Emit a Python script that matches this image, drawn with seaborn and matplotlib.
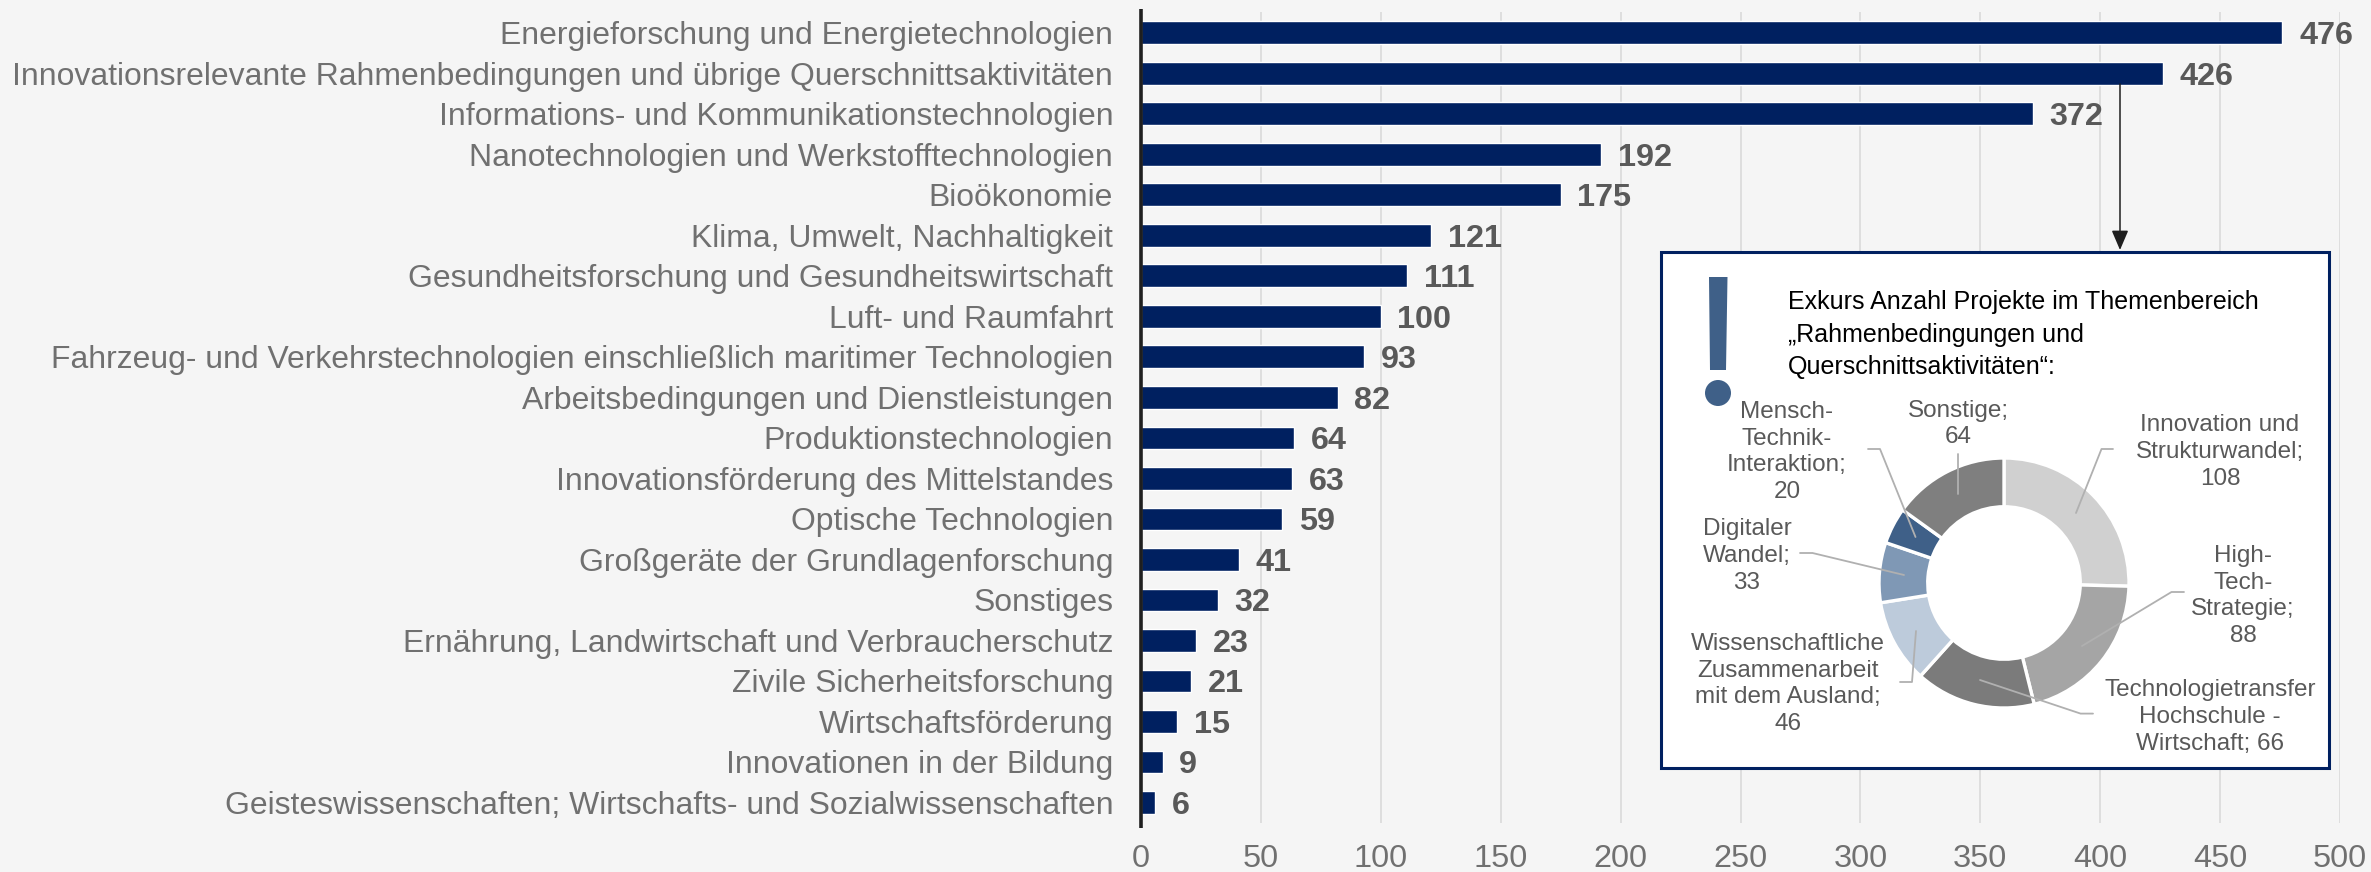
import matplotlib
matplotlib.use("Agg")
import matplotlib.pyplot as plt
from matplotlib.patches import Rectangle, Polygon, Circle
import seaborn as sns
import pandas as pd

categories = [
    "Energieforschung und Energietechnologien",
    "Innovationsrelevante Rahmenbedingungen und übrige Querschnittsaktivitäten",
    "Informations- und Kommunikationstechnologien",
    "Nanotechnologien und Werkstofftechnologien",
    "Bioökonomie",
    "Klima, Umwelt, Nachhaltigkeit",
    "Gesundheitsforschung und Gesundheitswirtschaft",
    "Luft- und Raumfahrt",
    "Fahrzeug- und Verkehrstechnologien einschließlich maritimer Technologien",
    "Arbeitsbedingungen und Dienstleistungen",
    "Produktionstechnologien",
    "Innovationsförderung des Mittelstandes",
    "Optische Technologien",
    "Großgeräte der Grundlagenforschung",
    "Sonstiges",
    "Ernährung, Landwirtschaft und Verbraucherschutz",
    "Zivile Sicherheitsforschung",
    "Wirtschaftsförderung",
    "Innovationen in der Bildung",
    "Geisteswissenschaften; Wirtschafts- und Sozialwissenschaften",
]
values = [476, 426, 372, 192, 175, 121, 111, 100, 93, 82, 64, 63, 59, 41, 32, 23, 21, 15, 9, 6]
x_ticks = [0, 50, 100, 150, 200, 250, 300, 350, 400, 450, 500]

donut_values = [108, 88, 66, 46, 33, 20, 64]
donut_colors = ["#D0D0D0", "#A5A5A5", "#7B7B7B", "#BDCBDB", "#7F98B5", "#3F6088", "#7F7F7F"]
donut_labels = [
    "Innovation und\nStrukturwandel;\n108",
    "High-\nTech-\nStrategie;\n88",
    "Technologietransfer\nHochschule -\nWirtschaft; 66",
    "Wissenschaftliche\nZusammenarbeit\nmit dem Ausland;\n46",
    "Digitaler\nWandel;\n33",
    "Mensch-\nTechnik-\nInteraktion;\n20",
    "Sonstige;\n64",
]
donut_label_pos = [(2220, 452), (2243, 596), (2210, 717), (1788, 684), (1747, 556), (1787, 452), (1958, 424)]
leaders = [
    [(2113, 449), (2101.5, 449), (2076, 513)],
    [(2184, 592), (2171.5, 592), (2082, 646)],
    [(2093, 713.6), (2080.6, 713.6), (1980, 680)],
    [(1900, 682), (1912, 682), (1916, 631)],
    [(1800, 553), (1812.5, 553), (1904, 575)],
    [(1868, 449), (1880, 449), (1915.5, 537)],
    [(1958.4, 454), (1958.4, 493.6)],
]
inset_title = ["Exkurs Anzahl Projekte im Themenbereich", "„Rahmenbedingungen und", "Querschnittsaktivitäten“:"]

W, H = 2371, 872
BG = "#F5F5F5"
NAVY = "#002060"
BLUE = "#3F6088"
GREY = "#707070"

sns.set_theme(style="white")
plt.rcParams["font.family"] = ["Liberation Sans", "DejaVu Sans"]

fig = plt.figure(figsize=(W / 100, H / 100), dpi=100, facecolor=BG)


def box(x0, y0, x1, y1):
    return [x0 / W, 1 - y1 / H, (x1 - x0) / W, (y1 - y0) / H]


ax = fig.add_axes(box(1141, 12.5, 2340, 822.7), facecolor=BG)
df = pd.DataFrame({"Thema": categories, "Projekte": values})
sns.barplot(data=df, y="Thema", x="Projekte", color=NAVY, saturation=1, width=0.56,
            orient="h", ax=ax, zorder=3)
ax.set_xlim(0, 500)
ax.set_ylim(len(categories) - 0.5, -0.5)
ax.set_xlabel("")
ax.set_ylabel("")
ax.set_xticks(x_ticks)
ax.grid(axis="x", color="#DEDEDE", lw=1.4, zorder=0)
ax.grid(axis="y", visible=False)
ax.set_axisbelow(True)
ax.tick_params(axis="y", length=0, pad=20, labelsize=22.95, labelcolor=GREY)
ax.tick_params(axis="x", length=0, pad=15.5, labelsize=23.4, labelcolor=GREY)
for s in ax.spines.values():
    s.set_visible(False)
for c in ax.containers:
    for t in ax.bar_label(c, padding=12, fontsize=23.3, fontweight="bold", color="#595959", zorder=4):
        t.set_verticalalignment("center_baseline")

# Overlay in pixel coordinates for the annotation layer
ov = fig.add_axes([0, 0, 1, 1], facecolor="none")
ov.set_xlim(0, W)
ov.set_ylim(H, 0)
ov.axis("off")
ov.plot([1141, 1141], [9, 828], color="#1F1F1F", lw=2.6, solid_capstyle="butt")
ov.add_patch(Rectangle((1661, 252), 668, 516, facecolor="white", edgecolor=NAVY, lw=2.2, zorder=2))
ov.annotate("", xy=(2120, 250), xytext=(2120, 84), zorder=3,
            arrowprops=dict(arrowstyle="-|>,head_width=0.32,head_length=0.75", color="#1F1F1F", lw=1.1,
                            shrinkA=0, shrinkB=0, mutation_scale=16))
ov.add_patch(Polygon([(1709, 277), (1727.5, 277), (1726, 370), (1710, 370)], facecolor=BLUE, edgecolor="none", zorder=3))
ov.add_patch(Circle((1718, 393), 13, facecolor=BLUE, edgecolor="none", zorder=3))
for txt, y in zip(inset_title, [302, 335, 367]):
    ov.text(1788, y, txt, fontsize=18, color="black", ha="left", va="center", zorder=3)
for txt, (x, y) in zip(donut_labels, donut_label_pos):
    ov.text(x, y, txt, fontsize=17.5, color="#595959", ha="center", va="center",
            linespacing=1.29, multialignment="center", zorder=3)

# Donut
cx, cy, r = 2004, 583, 125
pie_ax = fig.add_axes(box(cx - r, cy - r, cx + r, cy + r), facecolor="none", zorder=3)
pie_ax.pie(donut_values, colors=donut_colors, startangle=90, counterclock=False, radius=1,
           wedgeprops=dict(width=0.39, edgecolor="white", linewidth=2.4))
pie_ax.set_xlim(-1, 1)
pie_ax.set_ylim(-1, 1)

# Leader lines above the donut
top = fig.add_axes([0, 0, 1, 1], facecolor="none", zorder=4)
top.set_xlim(0, W)
top.set_ylim(H, 0)
top.axis("off")
for pts in leaders:
    top.plot([p[0] for p in pts], [p[1] for p in pts], color="#B0B0B0", lw=1.3)

fig.savefig("out.png", dpi=100, facecolor=BG)
